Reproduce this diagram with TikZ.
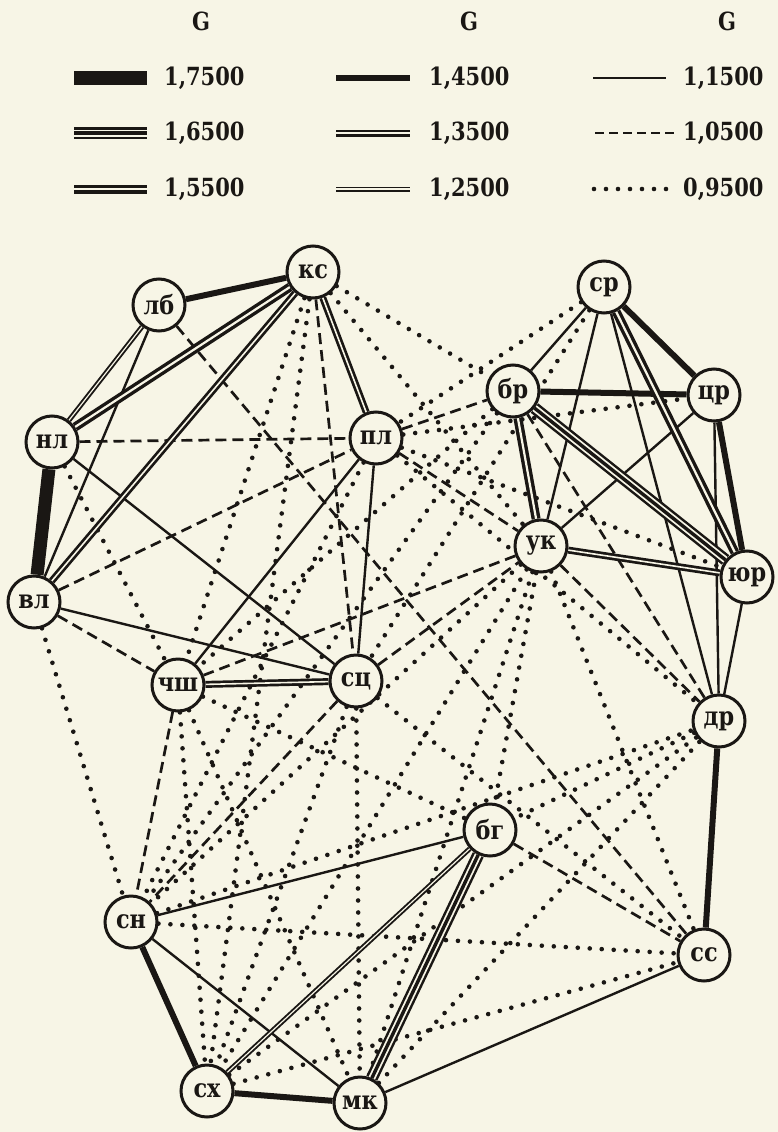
\documentclass[tikz,border=0pt]{standalone}
\usepackage{fontspec}
\setmainfont{DejaVu Serif}
\newfontfamily\labelfont[FakeStretch=0.86]{DejaVu Serif}
\newfontfamily\numfont[FakeStretch=0.84]{DejaVu Serif}
\pgfdeclarelayer{paperlayer}
\pgfdeclarelayer{edgelayer}
\pgfsetlayers{paperlayer,edgelayer,main}
\definecolor{paper}{RGB}{247,245,230}
\definecolor{ink}{RGB}{26,23,20}
\tikzset{
  town/.style={circle, draw=ink, line width=3pt, fill=paper, minimum size=52pt,
    inner sep=0pt, text=ink, font=\labelfont\bfseries\fontsize{26}{26}\selectfont},
  legtext/.style={anchor=west, inner sep=0pt, text=ink, font=\numfont\bfseries\fontsize{25}{25}\selectfont},
  headtext/.style={inner sep=0pt, text=ink, font=\numfont\bfseries\fontsize{25}{25}\selectfont},
  g175/.style={draw=ink, line width=13pt},
  g165/.style={draw=ink, line width=12pt,
    postaction={draw=paper, line width=7pt},
    postaction={draw=ink, line width=3.4pt}},
  g155/.style={draw=ink, line width=9pt, postaction={draw=paper, line width=2.2pt}},
  g145/.style={draw=ink, line width=6pt},
  g135/.style={draw=ink, line width=7pt, postaction={draw=paper, line width=1.6pt}},
  g125/.style={draw=ink, line width=5pt, postaction={draw=paper, line width=1.2pt}},
  g115/.style={draw=ink, line width=2.4pt},
  g105/.style={draw=ink, line width=2.7pt, dash pattern=on 11pt off 6pt},
  g095/.style={draw=ink, line width=4.6pt, line cap=round, dash pattern=on 0pt off 12pt},
  legdash/.style={g105, dash pattern=on 9pt off 5pt},
}
\begin{document}
\begin{tikzpicture}[x=1pt, y=-1pt]
\begin{pgfonlayer}{paperlayer}
  \fill[paper] (0,0) rectangle (778,1132);
\end{pgfonlayer}
\useasboundingbox (0,0) rectangle (778,1132);

% legend: three columns of line samples with their values
\node[headtext] (hA) at (201,21) {G};
\node[headtext] (hB) at (469,21) {G};
\node[headtext] (hC) at (727,21) {G};
\draw[g175] (74,78) -- (147,78);
\draw[g165] (74,133) -- (147,133);
\draw[g155] (74,189) -- (147,189);
\node[legtext] (lA1) at (164,78) {1,7500};
\node[legtext] (lA2) at (164,133) {1,6500};
\node[legtext] (lA3) at (164,189) {1,5500};
\draw[g145] (336,78) -- (410,78);
\draw[g135] (336,133) -- (410,133);
\draw[g125] (336,189) -- (410,189);
\node[legtext] (lB1) at (429,78) {1,4500};
\node[legtext] (lB2) at (429,133) {1,3500};
\node[legtext] (lB3) at (429,189) {1,2500};
\draw[g115] (593,78) -- (666,78);
\draw[legdash] (595,133) -- (677,133);
\draw[g095] (594,189) -- (676,189);
\node[legtext] (lC1) at (683,78) {1,1500};
\node[legtext] (lC2) at (683,133) {1,0500};
\node[legtext] (lC3) at (683,189) {0,9500};

% towns
\node[town] (ks)   at (313,272)  {кс};
\node[town] (lb)   at (159,305)  {лб};
\node[town] (nl)   at (52,442)   {нл};
\node[town] (pl)   at (376,438)  {пл};
\node[town] (vl)   at (34,602)   {вл};
\node[town] (chsh) at (178,685)  {чш};
\node[town] (sc)   at (356,681)  {сц};
\node[town] (sr)   at (604,287)  {ср};
\node[town] (br)   at (513,391)  {бр};
\node[town] (chr)  at (714,395)  {цр};
\node[town] (uk)   at (541,546)  {ук};
\node[town] (yur)  at (747,577)  {юр};
\node[town] (dr)   at (719,721)  {др};
\node[town] (bg)   at (490,830)  {бг};
\node[town] (sn)   at (131,922)  {сн};
\node[town] (ss)   at (704,955)  {сс};
\node[town] (sh)   at (207,1091) {сх};
\node[town] (mk)   at (360,1103) {мк};

\begin{pgfonlayer}{edgelayer}
  % weakest links
  \foreach \a/\b in {nl/chsh, vl/sn, ks/chsh, ks/sh, ks/br, ks/uk, sr/pl, sr/sc,
      pl/sn, pl/chr, pl/yur, pl/dr, br/chsh, br/sn, uk/bg, uk/sh, uk/ss, uk/mk,
      uk/sn, chsh/sh, chsh/mk, chsh/bg, sc/sh, sc/mk, sc/ss, sn/ss, sn/dr,
      sh/ss, sh/dr, dr/bg, mk/dr}
    \draw[g095] (\a) -- (\b);
  \foreach \a/\b in {ks/sc, lb/ss, nl/pl, vl/pl, vl/chsh, pl/br, pl/uk, br/dr,
      uk/dr, sc/uk, uk/chsh, sc/sn, chsh/sn, bg/ss}
    \draw[g105] (\a) -- (\b);
  \foreach \a/\b in {lb/vl, nl/sc, vl/sc, pl/chsh, pl/sc, sr/br, sr/uk, sr/dr,
      chr/uk, chr/dr, yur/dr, sn/bg, sn/mk, mk/ss}
    \draw[g115] (\a) -- (\b);
  % strong links
  \foreach \a/\b in {lb/nl, sh/bg}
    \draw[g125] (\a) -- (\b);
  \foreach \a/\b in {ks/pl, ks/vl, chsh/sc, uk/yur}
    \draw[g135] (\a) -- (\b);
  \foreach \a/\b in {lb/ks, sr/chr, chr/yur, br/chr, sh/mk, sn/sh, dr/ss}
    \draw[g145] (\a) -- (\b);
  \foreach \a/\b in {ks/nl, br/uk, sr/yur}
    \draw[g155] (\a) -- (\b);
  \foreach \a/\b in {mk/bg, br/yur}
    \draw[g165] (\a) -- (\b);
  \draw[g175] (nl) -- (vl);
\end{pgfonlayer}
\end{tikzpicture}
\end{document}
